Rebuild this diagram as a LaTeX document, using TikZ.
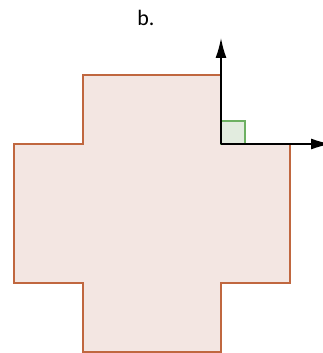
\documentclass[tikz,border=0pt]{standalone}
\usepackage{fontspec}
\setmainfont{Carlito}
\usetikzlibrary{arrows.meta}
\definecolor{crossfill}{HTML}{F3E6E2}
\definecolor{crossline}{HTML}{C0673F}
\definecolor{sqfill}{HTML}{E2ECDF}
\definecolor{sqline}{HTML}{6DB062}
\tikzset{
  crossshape/.style={fill=crossfill, draw=crossline, line width=1.5pt, line join=miter},
  rightsq/.style={fill=sqfill, draw=sqline, line width=1.5pt},
  axis/.style={draw=black, line width=1.6pt, -{Latex[length=20pt,width=11pt]}},
  lbl/.style={font=\fontsize{22}{26}\selectfont, inner sep=0pt}
}
\begin{document}
\begin{tikzpicture}[x=1pt,y=-1pt]
\useasboundingbox (0,0) rectangle (322,353);
\draw[crossshape] (83,75) -- (221,75) -- (221,144) -- (290,144) -- (290,283) -- (221,283) -- (221,352) -- (83,352) -- (83,283) -- (14,283) -- (14,144) -- (83,144) -- cycle;
\draw[rightsq] (221,121) rectangle (245,144);
\coordinate (o) at (221,144);
\coordinate (ytip) at (221,38);
\coordinate (xtip) at (331,144);
\draw[axis] (o) -- (ytip);
\draw[axis] (o) -- (xtip);
\node[lbl] (b) at (146,18) {b.};
\end{tikzpicture}
\end{document}
